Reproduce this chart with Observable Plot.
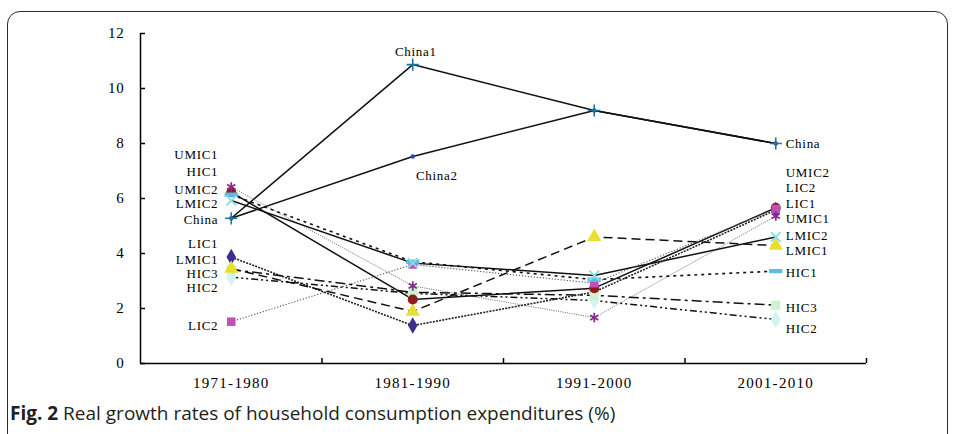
<!DOCTYPE html>
<html><head><meta charset="utf-8">
<script src="https://cdn.jsdelivr.net/npm/d3@7"></script>
<script src="https://cdn.jsdelivr.net/npm/@observablehq/plot@0.6"></script>
<style>
html,body{margin:0;padding:0;background:#fff;overflow:hidden;}
#wrap{position:relative;width:955px;height:434px;overflow:hidden;background:#fff;}
#frame{position:absolute;left:7px;top:11px;width:939px;height:460px;border:1.5px solid #2b2b2b;border-radius:13px 13px 0 0;}
#chart{position:absolute;left:0;top:0;}
#caption{position:absolute;left:10px;top:400px;font-family:"Open Sans";font-size:19px;letter-spacing:0px;color:#231f20;white-space:nowrap;}
#caption b{font-weight:700;}
</style></head>
<body><div id="wrap"><div id="frame"></div><div id="chart"></div><div id="caption"><b>Fig. 2</b> Real growth rates of household consumption expenditures (%)</div></div>
<script>
// ---- data ----
const periods = ["1971-1980", "1981-1990", "1991-2000", "2001-2010"];
const seriesNames = ["LIC1","LIC2","LMIC1","LMIC2","UMIC1","UMIC2","HIC1","HIC2","HIC3","China1","China2"];
const LIC1   = [3.87, 1.38, 2.60, 5.58];
const LIC2   = [1.52, 3.60, 2.92, 5.62];
const LMIC1  = [3.45, 1.89, 4.60, 4.29];
const LMIC2  = [5.93, 3.65, 3.20, 4.60];
const UMIC1  = [6.42, 2.82, 1.67, 5.36];
const UMIC2  = [6.23, 2.33, 2.74, 5.66];
const HIC1   = [6.14, 3.70, 3.05, 3.36];
const HIC2   = [3.14, 2.55, 2.29, 1.60];
const HIC3   = [3.42, 2.59, 2.48, 2.12];
const China1 = [5.28, 10.87, 9.20, 8.00];
const China2 = [5.28, 7.53, 9.20, 8.00];
const values = {LIC1, LIC2, LMIC1, LMIC2, UMIC1, UMIC2, HIC1, HIC2, HIC3, China1, China2};

// label annotations (value-axis positions of the hand-placed labels)
const leftLabels  = ["UMIC1","HIC1","UMIC2","LMIC2","China","LIC1","LMIC1","HIC3","HIC2","LIC2"];
const leftLabelY  = [7.58, 6.97, 6.33, 5.79, 5.22, 4.35, 3.77, 3.25, 2.74, 1.38];
const rightLabels = ["China","UMIC2","LIC2","LIC1","UMIC1","LMIC2","LMIC1","HIC1","HIC3","HIC2"];
const rightLabelY = [8.00, 6.93, 6.37, 5.82, 5.25, 4.63, 4.10, 3.31, 2.04, 1.27];
const yTicks = [0, 2, 4, 6, 8, 10, 12];

// ---- styles ----
const dashSym = {draw(ctx, size){ const w = Math.sqrt(size)*1.25, h = w*0.32; ctx.rect(-w/2, -h/2, w, h); }};
const styles = {
  LIC1:  {dash:"2,1.2", sw:1.6, lc:"#222", symbol:"diamond", fill:"#3a2f8c", stroke:"none", r:5},
  LIC2:  {dash:"1.2,1.8", sw:1.1, lc:"#555", symbol:"square", fill:"#c04fb8", stroke:"none", r:4.8},
  LMIC1: {dash:"9,5", sw:1.5, lc:"#111", symbol:"triangle", fill:"#e8e030", stroke:"none", r:5.3},
  LMIC2: {dash:null, sw:1.5, lc:"#111", symbol:"times", fill:"none", stroke:"#86dde2", r:4.5, ssw:1.8},
  UMIC1: {dash:"1,1.3", sw:1, lc:"#666", symbol:"asterisk", fill:"none", stroke:"#8a2a8e", r:4.5, ssw:1.8},
  UMIC2: {dash:null, sw:1.5, lc:"#111", symbol:"circle", fill:"#8c1c1c", stroke:"none", r:5},
  HIC1:  {dash:"3,4", sw:1.6, lc:"#111", symbol:dashSym, fill:"#5bbde6", stroke:"none", r:6},
  HIC2:  {dash:"7,3,2,3,2,3", sw:1.5, lc:"#111", symbol:"diamond", fill:"#d3f3f3", stroke:"none", r:5.3},
  HIC3:  {dash:"10,4,3,4", sw:1.5, lc:"#111", symbol:"square", fill:"#cdf2cd", stroke:"none", r:5.2},
  China1:{dash:null, sw:1.5, lc:"#111", symbol:"plus", fill:"none", stroke:"#1d74a0", r:4, ssw:1.6},
  China2:{dash:null, sw:1.5, lc:"#111", symbol:"circle", fill:"#2a45b8", stroke:"none", r:2.2}
};
const drawOrder = ["China1","China2","UMIC1","UMIC2","LMIC2","HIC1","LIC1","LIC2","LMIC1","HIC3","HIC2"];
const markerOrder = ["China2","China1","LIC1","HIC2","HIC3","LMIC1","UMIC2","LIC2","HIC1","LMIC2","UMIC1"];

const rows = s => values[s].map((v, i) => ({series: s, i: i + 0.5, v}));
const font = "Liberation Serif";

const marks = [];
marks.push(Plot.ruleX([0], {y1: 0, y2: 12, stroke: "#000", strokeWidth: 1.5}));
marks.push(Plot.ruleY([0], {x1: 0, x2: 4, stroke: "#000", strokeWidth: 1.5}));
for (const s of drawOrder) {
  const st = styles[s];
  marks.push(Plot.line(rows(s), {x: "i", y: "v", stroke: st.lc, strokeWidth: st.sw,
    strokeDasharray: st.dash || undefined, strokeLinecap: "butt"}));
}
for (const s of markerOrder) {
  const st = styles[s];
  marks.push(Plot.dot(rows(s), {x: "i", y: "v", symbol: st.symbol, r: st.r, fill: st.fill,
    stroke: st.stroke, strokeWidth: st.ssw || 1}));
}
const lbl = (data, opts) => Plot.text(data, {...opts, fontFamily: font, fontSize: 13, fill: "#000"});
marks.push(lbl(leftLabels, {x: 0.5, y: (d, k) => leftLabelY[k], text: d => d, textAnchor: "end", dx: -13}));
marks.push(lbl(rightLabels, {x: 3.5, y: (d, k) => rightLabelY[k], text: d => d, textAnchor: "start", dx: 10}));
marks.push(lbl(["China1"], {x: 1.5, y: 11.35, text: d => d, textAnchor: "middle", dx: 3}));
marks.push(lbl(["China2"], {x: 1.5, y: 6.84, text: d => d, textAnchor: "middle", dx: 24}));
marks.push(Plot.axisY({ticks: yTicks, tickSize: -5, tickPadding: 21, tickFormat: d => String(d), fontFamily: font, fontSize: 15, stroke: "#000", strokeWidth: 1.5, color: "#000", label: null}));
marks.push(Plot.axisX({ticks: [1, 2, 3, 4], tickSize: -5, tickFormat: () => "", stroke: "#000", strokeWidth: 1.5, label: null}));
marks.push(Plot.axisX({ticks: [0.5, 1.5, 2.5, 3.5], tickSize: 0, tickPadding: 14, tickFormat: d => periods[Math.floor(d)], fontFamily: font, fontSize: 15, color: "#000", label: null}));

const chart = Plot.plot({
  width: 955, height: 400,
  marginLeft: 140, marginRight: 89, marginTop: 33, marginBottom: 37,
  x: {domain: [0, 4], axis: null},
  y: {domain: [0, 12], axis: null},
  style: {background: "transparent", overflow: "visible", letterSpacing: "0.7px"},
  marks
});
chart.querySelectorAll("g[aria-label='x-axis tick label'] text").forEach(t => t.style.letterSpacing = "1.3px");
document.getElementById("chart").appendChild(chart);
</script>
</body></html>
